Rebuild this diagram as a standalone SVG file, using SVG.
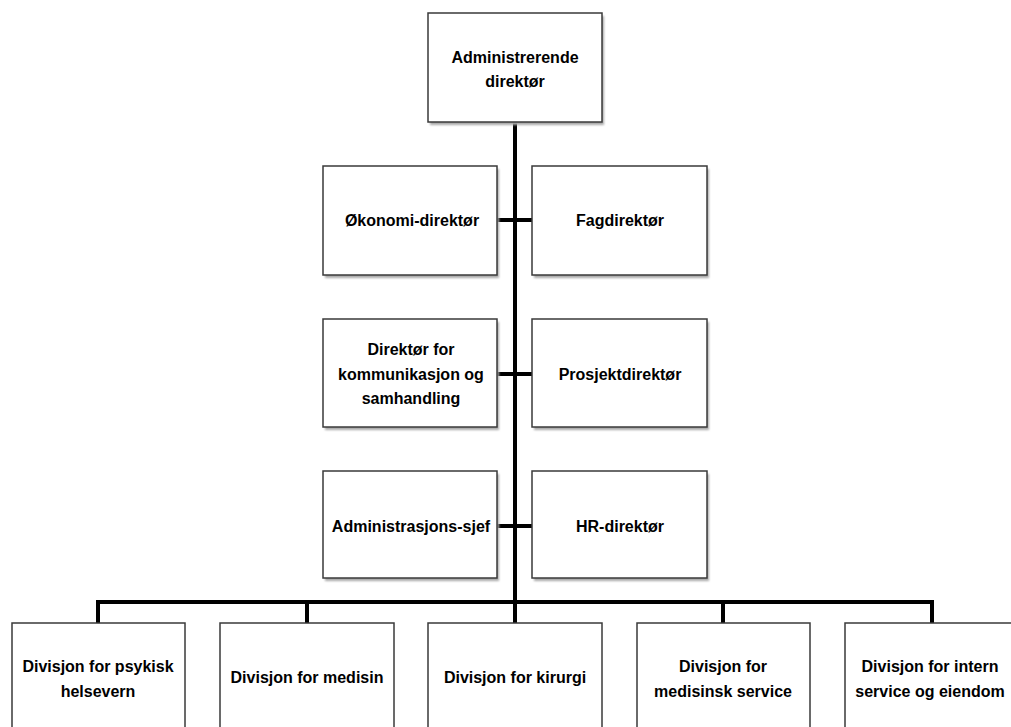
<svg xmlns="http://www.w3.org/2000/svg" width="1011" height="727" viewBox="0 0 1011 727">
<defs>
<filter id="blur" x="-10%" y="-10%" width="120%" height="120%"><feGaussianBlur stdDeviation="1.3"/></filter>
</defs>
<style>
.box{fill:#fff;stroke:#3a3a3a;stroke-width:1.5}
.sh{fill:#a8a8a8;filter:url(#blur)}
.t{font-family:"Liberation Sans",Arial,sans-serif;font-weight:bold;font-size:16px;fill:#000;text-anchor:middle}
.c{stroke:#000;stroke-width:4;fill:none}
</style>
<rect width="1011" height="727" fill="#fff"/>
<g id="connectors">
<line class="c" x1="515" y1="122" x2="515" y2="604"/>
<line class="c" x1="497" y1="220" x2="532" y2="220"/>
<line class="c" x1="497" y1="374" x2="532" y2="374"/>
<line class="c" x1="497" y1="526" x2="532" y2="526"/>
<polyline class="c" points="98,623 98,602 932,602 932,623"/>
<line class="c" x1="307" y1="602" x2="307" y2="623"/>
<line class="c" x1="723" y1="602" x2="723" y2="623"/>
<line class="c" x1="515" y1="602" x2="515" y2="623"/>
</g>
<g id="n-adm">
<rect class="sh" x="430" y="16" width="174" height="109"/>
<rect class="box" x="428" y="13" width="174" height="109"/>
<text class="t" x="515" y="63">Administrerende</text>
<text class="t" x="515" y="87">direktør</text>
</g>
<g id="n-okonomi">
<rect class="sh" x="325" y="169" width="174" height="109"/>
<rect class="box" x="323" y="166" width="174" height="109"/>
<text class="t" x="412" y="226">Økonomi-direktør</text>
</g>
<g id="n-fag">
<rect class="sh" x="534" y="169" width="175" height="109"/>
<rect class="box" x="532" y="166" width="175" height="109"/>
<text class="t" x="620" y="226">Fagdirektør</text>
</g>
<g id="n-kommunikasjon">
<rect class="sh" x="325" y="322" width="174" height="108"/>
<rect class="box" x="323" y="319" width="174" height="108"/>
<text class="t" x="411" y="355">Direktør for</text>
<text class="t" x="411" y="380">kommunikasjon og</text>
<text class="t" x="411" y="404">samhandling</text>
</g>
<g id="n-prosjekt">
<rect class="sh" x="534" y="322" width="175" height="108"/>
<rect class="box" x="532" y="319" width="175" height="108"/>
<text class="t" x="620" y="380">Prosjektdirektør</text>
</g>
<g id="n-administrasjon">
<rect class="sh" x="325" y="474" width="174" height="107"/>
<rect class="box" x="323" y="471" width="174" height="107"/>
<text class="t" x="411" y="532">Administrasjons-sjef</text>
</g>
<g id="n-hr">
<rect class="sh" x="534" y="474" width="175" height="107"/>
<rect class="box" x="532" y="471" width="175" height="107"/>
<text class="t" x="620" y="532">HR-direktør</text>
</g>
<g id="n-psykisk">
<rect class="box" x="12" y="623" width="173" height="109"/>
<text class="t" x="98" y="672">Divisjon for psykisk</text>
<text class="t" x="98" y="697">helsevern</text>
</g>
<g id="n-medisin">
<rect class="box" x="220" y="623" width="174" height="109"/>
<text class="t" x="307" y="683">Divisjon for medisin</text>
</g>
<g id="n-kirurgi">
<rect class="box" x="428" y="623" width="174" height="109"/>
<text class="t" x="515" y="683">Divisjon for kirurgi</text>
</g>
<g id="n-medservice">
<rect class="box" x="637" y="623" width="173" height="109"/>
<text class="t" x="723" y="672">Divisjon for</text>
<text class="t" x="723" y="697">medisinsk service</text>
</g>
<g id="n-intern">
<rect class="box" x="845" y="623" width="174" height="109"/>
<text class="t" x="930" y="672">Divisjon for intern</text>
<text class="t" x="930" y="697">service og eiendom</text>
</g>
</svg>
